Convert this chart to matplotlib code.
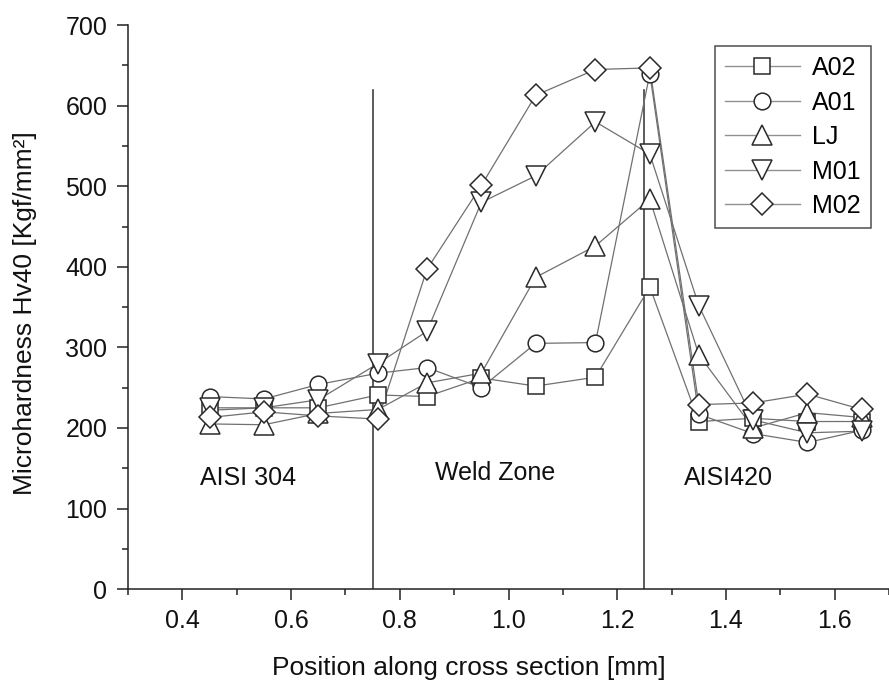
import matplotlib
matplotlib.use('Agg')
import matplotlib.pyplot as plt
from matplotlib.lines import Line2D
from matplotlib.ticker import MultipleLocator

plt.rcParams['font.family'] = ['Liberation Sans', 'DejaVu Sans']

# positions along the cross section [mm]
pos = [0.45, 0.55, 0.65, 0.76, 0.85, 0.95, 1.05, 1.16, 1.26, 1.35, 1.45, 1.55, 1.65]

# microhardness Hv40 per sample
a02 = [222, 225, 225, 241, 239, 262, 252, 263, 375, 208, 212, 208, 208]
a01 = [239, 236, 254, 268, 275, 250, 305, 306, 640, 217, 193, 182, 197]
lj = [205, 204, 218, 223, 256, 268, 387, 426, 484, 291, 200, 219, 213]
m01 = [225, 225, 235, 280, 320, 480, 513, 580, 540, 352, 210, 194, 196]
m02 = [213, 220, 215, 211, 397, 501, 613, 645, 647, 229, 231, 242, 223]

names = ['A02', 'A01', 'LJ', 'M01', 'M02']
series = [a02, a01, lj, m01, m02]
markers = ['s', 'o', '^', 'v', 'D']
msizes = [11.5, 12, 14, 14, 11.5]

# zone borders and zone labels
borders = [0.75, 1.25]
zones = ['AISI 304', 'Weld Zone', 'AISI420']
zone_x = [0.52, 0.975, 1.405]
zone_y = [138, 144, 138]

fig = plt.figure(figsize=(8.89, 6.81), dpi=100)
ax = fig.add_axes([0.144, 0.135, 0.856, 0.828])

line_col = '#707070'
edge_col = '#2a2a2a'

handles = []
for name, vals, mk, ms in zip(names, series, markers, msizes):
    ax.plot(pos, vals, color=line_col, lw=0.9, zorder=2)
    ax.plot(pos, vals, ls='', marker=mk, ms=ms, mfc='white', mec=edge_col,
            mew=1.1, zorder=3)
    handles.append(Line2D([], [], color='#909090', lw=1.0, marker=mk, ms=ms,
                          mfc='white', mec=edge_col, mew=1.1, label=name))

for b in borders:
    ax.plot([b, b], [0, 620], color='#404040', lw=1.2, zorder=1)

for t, x, y in zip(zones, zone_x, zone_y):
    ax.text(x, y, t, fontsize=18, ha='center', va='center', color='#111111')

ax.set_xlim(0.3, 1.7)
ax.set_ylim(0, 700)
ax.xaxis.set_major_locator(MultipleLocator(0.2))
ax.xaxis.set_minor_locator(MultipleLocator(0.1))
ax.yaxis.set_major_locator(MultipleLocator(100))
ax.yaxis.set_minor_locator(MultipleLocator(50))
ax.xaxis.set_major_formatter(matplotlib.ticker.FormatStrFormatter('%.1f'))

for s in ['top', 'right']:
    ax.spines[s].set_visible(False)
for s in ['left', 'bottom']:
    ax.spines[s].set_linewidth(1.1)
    ax.spines[s].set_color('#222222')

ax.tick_params(axis='both', which='major', direction='out', length=8, width=1.1,
               labelsize=18, color='#222222', labelcolor='#111111')
ax.tick_params(axis='both', which='minor', direction='out', length=4, width=1.1,
               color='#222222')
ax.tick_params(axis='x', which='major', pad=6)
ax.tick_params(axis='y', which='major', pad=7)

ax.set_xlabel('Position along cross section [mm]', fontsize=19, color='#111111')
ax.set_ylabel('Microhardness Hv40 [Kgf/mm²]', fontsize=19, color='#111111')
ax.xaxis.set_label_coords(0.448, -0.118)
ax.yaxis.set_label_coords(-0.12, 0.49)

leg = ax.legend(handles=handles, loc='upper right', bbox_to_anchor=(0.976, 0.963),
                fontsize=18, frameon=True, fancybox=False, handlelength=3.0,
                labelspacing=0.42, handletextpad=0.5, borderpad=0.4,
                borderaxespad=0)
leg.get_frame().set_edgecolor('#222222')
leg.get_frame().set_linewidth(1.1)

fig.savefig('out.png', dpi=100)
